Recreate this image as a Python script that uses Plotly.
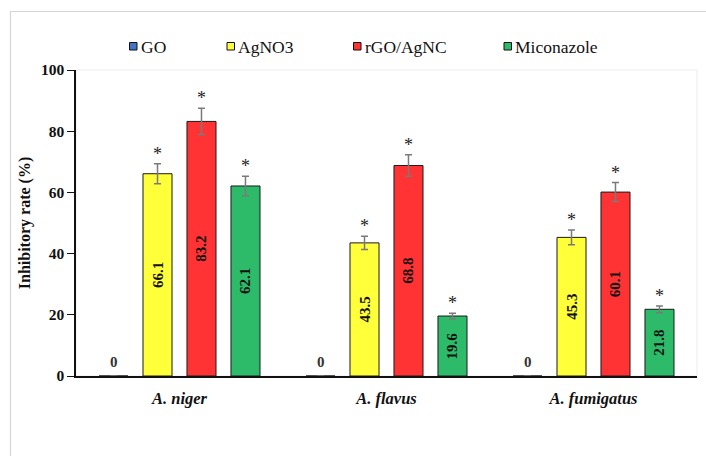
import plotly.graph_objects as go

# Inhibitory rate of each treatment against three Aspergillus species
species = ["<i>A. niger</i>", "<i>A. flavus</i>", "<i>A. fumigatus</i>"]
treatments = ["GO", "AgNO3", "rGO/AgNC", "Miconazole"]

go_vals = [0, 0, 0]
agno3_vals = [66.1, 43.5, 45.3]
rgo_agnc_vals = [83.2, 68.8, 60.1]
miconazole_vals = [62.1, 19.6, 21.8]

go_err = [0, 0, 0]
agno3_err = [3.3, 2.2, 2.4]
rgo_agnc_err = [4.3, 3.5, 3.1]
miconazole_err = [3.2, 0.9, 1.1]

values = [go_vals, agno3_vals, rgo_agnc_vals, miconazole_vals]
errors = [go_err, agno3_err, rgo_agnc_err, miconazole_err]
colors = ["#4472C4", "#FFFF3A", "#FF3333", "#2DBB6A"]

FONT = "Liberation Serif"
W, H = 706, 456
M_L, M_R, M_T, M_B = 76, 9, 70, 80
BARGAP = 0.15

fig = go.Figure()
for name, vals, errs, col in zip(treatments, values, errors, colors):
    fig.add_trace(go.Bar(
        name=name,
        x=species,
        y=vals,
        marker=dict(color=col, line=dict(color="#1a1a1a", width=1)),
        error_y=dict(type="data", array=errs, visible=True,
                     color="#7a7a7a", thickness=1.5, width=3.5),
        text=[f"<b>{v:.1f}</b>" if v > 0 else "" for v in vals],
        textposition="inside",
        insidetextanchor="middle",
        textangle=-90,
        textfont=dict(family=FONT, size=15, color="#111111"),
        showlegend=False,
    ))

# pixel width of one bar slot inside a category group
plot_w = W - M_L - M_R
slot_px = plot_w / len(species) * (1 - BARGAP) / len(treatments)

annotations = []
for j, (vals, errs) in enumerate(zip(values, errors)):
    shift = (j - (len(treatments) - 1) / 2) * slot_px
    for i, sp in enumerate(species):
        if vals[i] > 0:
            annotations.append(dict(
                x=sp, y=vals[i] + errs[i], xref="x", yref="y",
                text="*", showarrow=False, xshift=shift, yshift=10,
                yanchor="middle",
                font=dict(family=FONT, size=18, color="#222222")))
        else:
            annotations.append(dict(
                x=sp, y=vals[i], xref="x", yref="y",
                text="<b>0</b>", showarrow=False, xshift=shift, yshift=14,
                yanchor="middle",
                font=dict(family=FONT, size=15, color="#333333")))

# legend row: colored squares with labels
plot_h = H - M_T - M_B
def px_x(px):
    return (px - M_L) / plot_w
def px_y(py):
    return (H - M_B - py) / plot_h

legend_x = [129.5, 227, 353.5, 504]
shapes = []
for name, col, lx in zip(treatments, colors, legend_x):
    shapes.append(dict(type="rect", xref="paper", yref="paper",
                       x0=px_x(lx), x1=px_x(lx + 7.5),
                       y0=px_y(50), y1=px_y(42.5),
                       fillcolor=col, line=dict(color="#111111", width=1)))
    annotations.append(dict(xref="paper", yref="paper", x=px_x(lx + 9),
                            y=px_y(46.5), text=name, showarrow=False,
                            xanchor="left", yanchor="middle",
                            font=dict(family=FONT, size=17.5, color="#111111")))

# faint plot-area border and outer chart frame
shapes.append(dict(type="rect", xref="paper", yref="paper", x0=0, x1=1,
                   y0=0, y1=1, line=dict(color="#ececec", width=1),
                   layer="below"))
shapes.append(dict(type="rect", xref="paper", yref="paper",
                   x0=px_x(10.5), x1=px_x(720), y0=px_y(470), y1=px_y(11.5),
                   line=dict(color="#d6d6d6", width=1.2), layer="below"))

fig.update_layout(
    width=W, height=H,
    margin=dict(l=M_L, r=M_R, t=M_T, b=M_B),
    paper_bgcolor="white", plot_bgcolor="white",
    barmode="group", bargap=BARGAP, bargroupgap=0.34,
    font=dict(family=FONT, color="#111111"),
    annotations=annotations,
    shapes=shapes,
    xaxis=dict(showline=True, linecolor="#111111", linewidth=1.5,
               ticks="outside", ticklen=6, tickcolor="rgba(0,0,0,0)",
               showgrid=False,
               tickfont=dict(family=FONT, size=16.5, color="#111111"),
               tickprefix="<b>", ticksuffix="</b>"),
    yaxis=dict(range=[0, 100], dtick=20, showline=True, linecolor="#111111",
               linewidth=1.5, ticks="outside", ticklen=7, tickcolor="#111111",
               showgrid=False, zeroline=False,
               tickfont=dict(family=FONT, size=15.5, color="#111111"),
               tickprefix="<b>", ticksuffix="</b>",
               title=dict(text="<b>Inhibitory rate (%)</b>", standoff=6,
                          font=dict(family=FONT, size=16, color="#111111"))),
)

fig.write_html("out.html")
